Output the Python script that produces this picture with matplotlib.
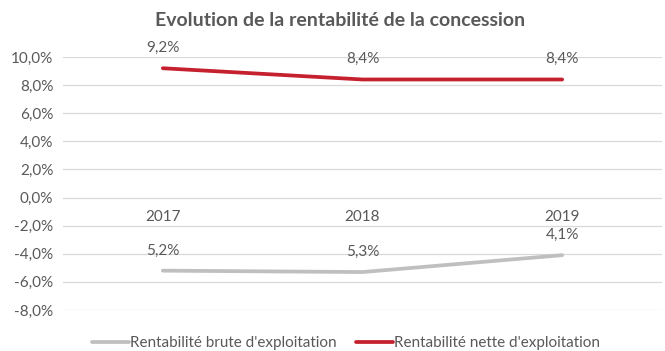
import matplotlib
matplotlib.use("Agg")
import matplotlib.pyplot as plt
from matplotlib.ticker import FuncFormatter

# ── Data ──────────────────────────────────────────────────────────────────────
years = ["2017", "2018", "2019"]
brute = [-0.052, -0.053, -0.041]   # Rentabilité brute d'exploitation
nette = [0.092, 0.084, 0.084]      # Rentabilité nette d'exploitation
y_ticks = [-0.08, -0.06, -0.04, -0.02, 0.0, 0.02, 0.04, 0.06, 0.08, 0.10]

GRAY = "#BFBFBF"
RED = "#C5202E"
TXT = "#595959"

plt.rcParams["font.family"] = ["Lato", "DejaVu Sans"]


def pct(v, _=None):
    return f"{v * 100:.1f}%".replace(".", ",")


fig = plt.figure(figsize=(6.65, 3.51), dpi=100)
ax = fig.add_axes([63 / 665, 1 - 310 / 351, 599 / 665, 253 / 351])

x = range(len(years))
ax.plot(x, brute, color=GRAY, lw=2.7, solid_capstyle="round",
        label="Rentabilité brute d'exploitation", zorder=3)
ax.plot(x, nette, color=RED, lw=2.7, solid_capstyle="round",
        label="Rentabilité nette d'exploitation", zorder=3)

# data labels (brute shown without sign)
for xi, v in zip(x, brute):
    ax.annotate(pct(abs(v)), (xi, v), xytext=(0, 14.5), textcoords="offset points",
                ha="center", va="center", fontsize=11, color=TXT)
for xi, v in zip(x, nette):
    ax.annotate(pct(v), (xi, v), xytext=(0, 14.5), textcoords="offset points",
                ha="center", va="center", fontsize=11, color=TXT)

ax.set_xlim(-0.5, 2.5)
ax.set_ylim(-0.08, 0.10)
ax.set_yticks(y_ticks)
ax.yaxis.set_major_formatter(FuncFormatter(pct))
ax.set_xticks(list(x))
ax.set_xticklabels(years)

ax.grid(axis="y", color="#D9D9D9", lw=0.9, zorder=0)
for s in ["top", "right", "left"]:
    ax.spines[s].set_visible(False)
ax.spines["bottom"].set_position(("data", 0))
ax.spines["bottom"].set_visible(False)
ax.tick_params(axis="y", length=0, pad=7, labelsize=11, labelcolor=TXT)
ax.tick_params(axis="x", length=0, pad=9, labelsize=11, labelcolor=TXT)

fig.text(340 / 665, 1 - 20 / 351, "Evolution de la rentabilité de la concession",
         ha="center", va="center", fontsize=14, fontweight="bold", color=TXT)

fig.legend(loc="center", bbox_to_anchor=(346 / 665, 1 - 343 / 351), ncol=2,
           frameon=False, fontsize=11, labelcolor=TXT, handlelength=2.4,
           handletextpad=0.05, columnspacing=1.3)

fig.savefig("out.png", dpi=100)
